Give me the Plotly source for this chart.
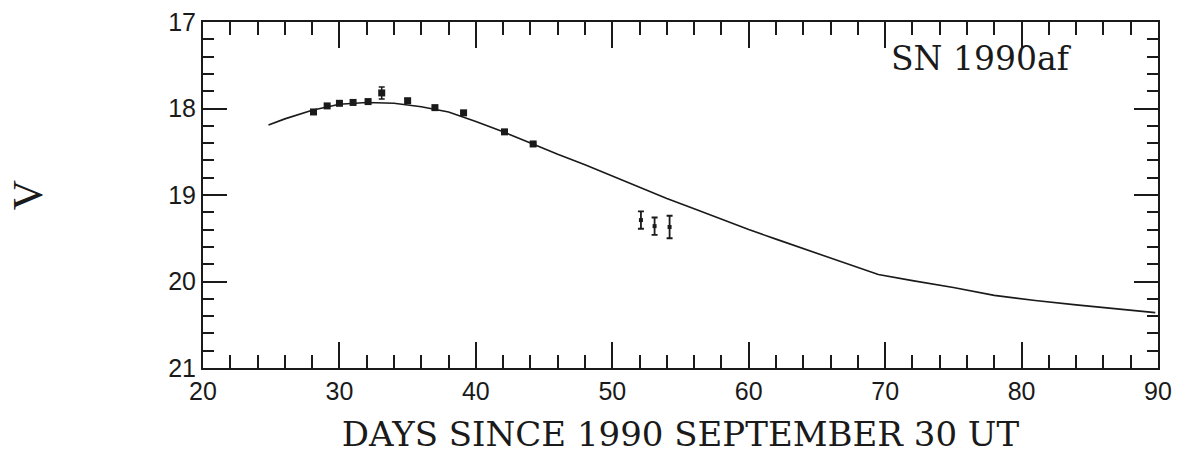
import plotly.graph_objects as go

# Model light curve (V magnitude vs days)
model_days = [24.8, 26, 28, 30, 32, 34, 36, 38, 40, 42, 44, 46, 48, 50, 52, 54,
              56, 58, 60, 62, 64, 66, 68, 69.5, 72, 75, 78, 81, 84, 87, 89.8]
model_v = [18.19, 18.12, 18.02, 17.95, 17.93, 17.94, 17.98, 18.04, 18.15, 18.27,
           18.40, 18.53, 18.65, 18.78, 18.91, 19.04, 19.16, 19.28, 19.40, 19.51,
           19.62, 19.73, 19.84, 19.92, 19.99, 20.07, 20.16, 20.22, 20.27, 20.32, 20.36]

# Photometry
obs_days = [28.1, 29.1, 30.0, 31.0, 32.1, 33.1, 35.0, 37.0, 39.1, 42.1, 44.2]
obs_v = [18.04, 17.97, 17.94, 17.93, 17.92, 17.82, 17.91, 17.99, 18.05, 18.27, 18.41]
obs_err = [0.02, 0.01, 0.01, 0.01, 0.02, 0.07, 0.02, 0.01, 0.01, 0.01, 0.01]

late_days = [52.1, 53.1, 54.2]
late_v = [19.29, 19.36, 19.37]
late_err = [0.10, 0.10, 0.13]

INK = "#1a1a1a"
SERIF = "DejaVu Serif"

fig = go.Figure()
fig.add_trace(go.Scatter(x=model_days, y=model_v, mode="lines",
                         line=dict(color=INK, width=1.6), hoverinfo="skip"))
fig.add_trace(go.Scatter(x=obs_days, y=obs_v, mode="markers",
                         marker=dict(symbol="square", size=7, color=INK),
                         error_y=dict(type="data", array=obs_err, color=INK,
                                      thickness=1.5, width=3)))
fig.add_trace(go.Scatter(x=late_days, y=late_v, mode="markers",
                         marker=dict(symbol="square", size=4, color=INK),
                         error_y=dict(type="data", array=late_err, color=INK,
                                      thickness=1.8, width=3)))

fig.add_annotation(x=0.815, y=0.895, xref="paper", yref="paper", text="SN 1990af",
                   showarrow=False, xanchor="center", yanchor="middle",
                   font=dict(family=SERIF, size=33, color=INK))

axis_common = dict(showgrid=False, zeroline=False, showline=True, linecolor=INK,
                   linewidth=2, mirror="allticks", ticks="inside", tickcolor=INK,
                   tickwidth=1.6, automargin=False)

fig.update_xaxes(range=[20, 90], dtick=10, tick0=20, ticklen=26,
                 minor=dict(ticks="inside", dtick=2, ticklen=13, tickcolor=INK, tickwidth=1.6),
                 tickfont=dict(family="Liberation Sans", size=25, color=INK),
                 title=dict(text="DAYS SINCE 1990 SEPTEMBER 30 UT", standoff=18,
                            font=dict(family=SERIF, size=34, color=INK)),
                 **axis_common)
fig.update_yaxes(range=[21, 17], dtick=1, tick0=17, ticklen=24,
                 minor=dict(ticks="inside", dtick=0.2, ticklen=11, tickcolor=INK, tickwidth=2),
                 tickfont=dict(family="Liberation Sans", size=25, color=INK),
                 title=dict(text="V", standoff=112,
                            font=dict(family="Liberation Serif", size=42, color=INK)),
                 **axis_common)

fig.update_layout(width=1178, height=455, showlegend=False,
                  margin=dict(l=203, r=20, t=22, b=87),
                  paper_bgcolor="white", plot_bgcolor="white")

fig.write_html("out.html")
